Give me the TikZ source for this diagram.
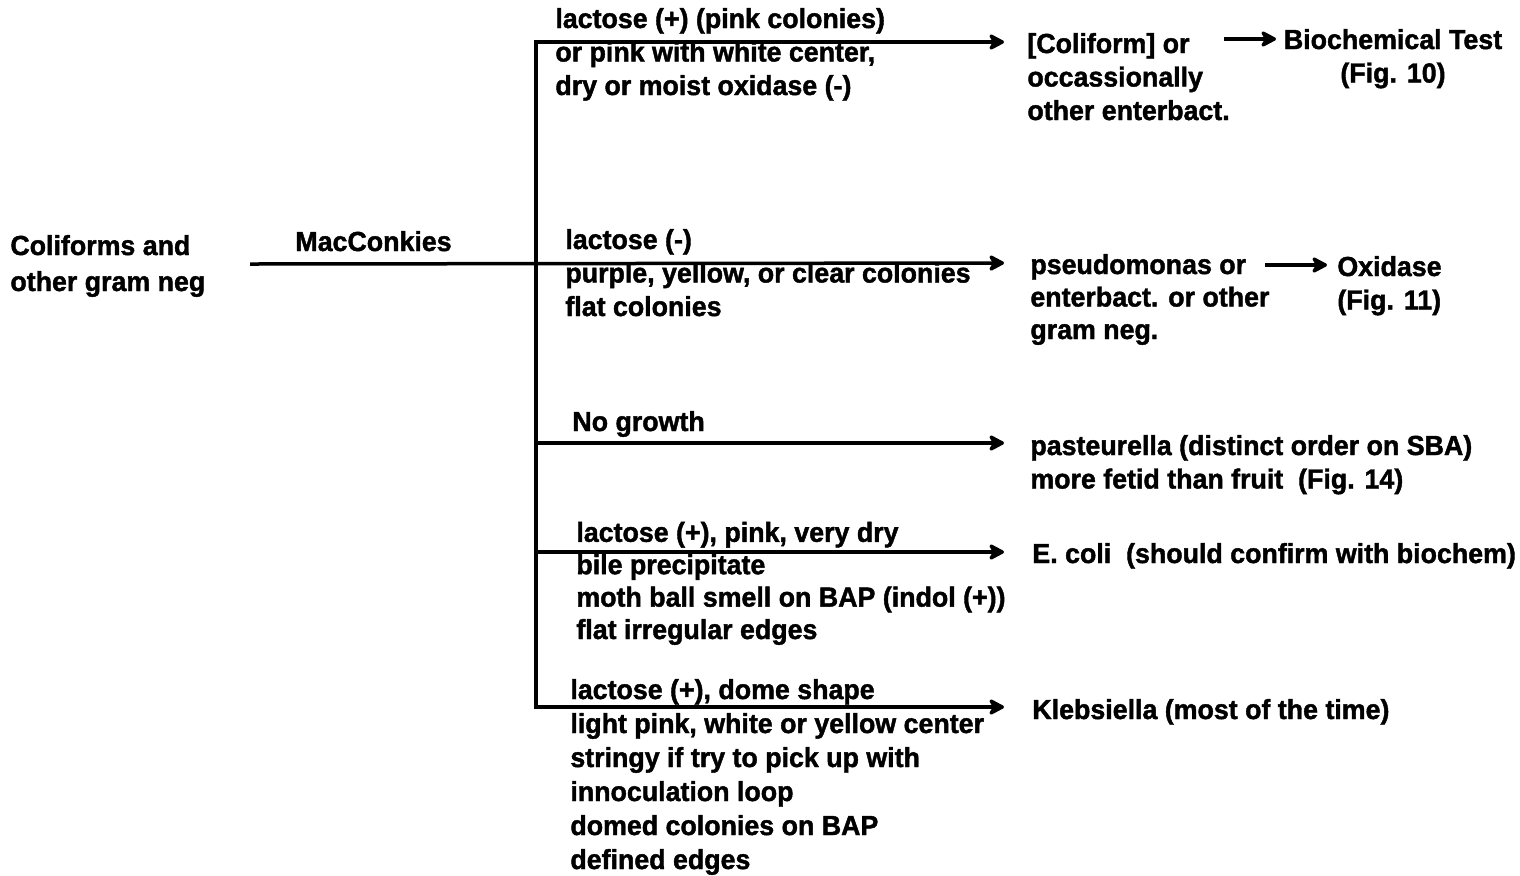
\documentclass[tikz,border=0pt]{standalone}
\usepackage{fontspec}
\setmainfont{Liberation Sans}[FakeStretch=0.97,BoldFeatures={FakeBold=1.5}]
\usetikzlibrary{arrows.meta}
\begin{document}
\begin{tikzpicture}[x=0.5pt,y=-0.5pt,
  txt/.style={anchor=base west, inner sep=0pt, align=left, font=\fontsize{13.8}{16.75}\bfseries\selectfont},
  link/.style={line width=1.75pt, line cap=rect},
  arr/.style={line width=1.75pt, -{Stealth[length=9.5pt,width=10pt,inset=3pt,round]}}]
\useasboundingbox (0,0) rectangle (1520,875);
% texts (anchor = baseline of the last line)
\node[txt, font=\fontsize{13.8}{18}\bfseries\selectfont] (src) at (10,291) {Coliforms and\\other gram neg};
\node[txt] (mac) at (295,251) {MacConkies};
\node[txt] (c1) at (555,95) {lactose (+) (pink colonies)\\or pink with white center,\\dry or moist oxidase (-)};
\node[txt] (t1) at (1027,120) {[Coliform] or\\occassionally\\other enterbact.};
\node[txt, align=center, anchor=base] (f1) at (1393,82.5) {Biochemical Test\\(Fig. 10)};
\node[txt] (c2) at (565,316) {lactose (-)\\purple, yellow, or clear colonies\\flat colonies};
\node[txt, font=\fontsize{13.8}{16.25}\bfseries\selectfont] (t2) at (1030,339) {pseudomonas or\\enterbact. or other\\gram neg.};
\node[txt] (f2) at (1337,309.5) {Oxidase\\(Fig. 11)};
\node[txt] (c3) at (572,431) {No growth};
\node[txt] (t3) at (1030,488.5) {pasteurella (distinct order on SBA)\\more fetid than fruit\ \ (Fig. 14)};
\node[txt, font=\fontsize{13.8}{16.2}\bfseries\selectfont] (c4) at (576,639) {lactose (+), pink, very dry\\bile precipitate\\moth ball smell on BAP (indol (+))\\flat irregular edges};
\node[txt] (t4) at (1032,563) {E. coli\ \ (should confirm with biochem)};
\node[txt, font=\fontsize{13.8}{17}\bfseries\selectfont] (c5) at (570,869) {lactose (+), dome shape\\light pink, white or yellow center\\stringy if try to pick up with\\innoculation loop\\domed colonies on BAP\\defined edges};
\node[txt] (t5) at (1032,719) {Klebsiella (most of the time)};
% coordinates
\coordinate (s0) at (250,264);
\coordinate (top) at (536,42);
\coordinate (bot) at (536,707);
\coordinate (b3) at (536,443);
\coordinate (b4) at (536,552);
\coordinate (e1) at (1004,42);
\coordinate (e2) at (1004,263);
\coordinate (e3) at (1004,443);
\coordinate (e4) at (1004,552);
\coordinate (e5) at (1004,707);
\coordinate (a1s) at (1224,39);
\coordinate (a1e) at (1276,39);
\coordinate (a2s) at (1265,265);
\coordinate (a2e) at (1327,265);
% connectors
\draw[link] (top) -- (bot);
\draw[arr] (s0) -- (e2);
\draw[arr] (top) -- (e1);
\draw[arr] (b3) -- (e3);
\draw[arr] (b4) -- (e4);
\draw[arr] (bot) -- (e5);
\draw[arr] (a1s) -- (a1e);
\draw[arr] (a2s) -- (a2e);
\end{tikzpicture}
\end{document}
